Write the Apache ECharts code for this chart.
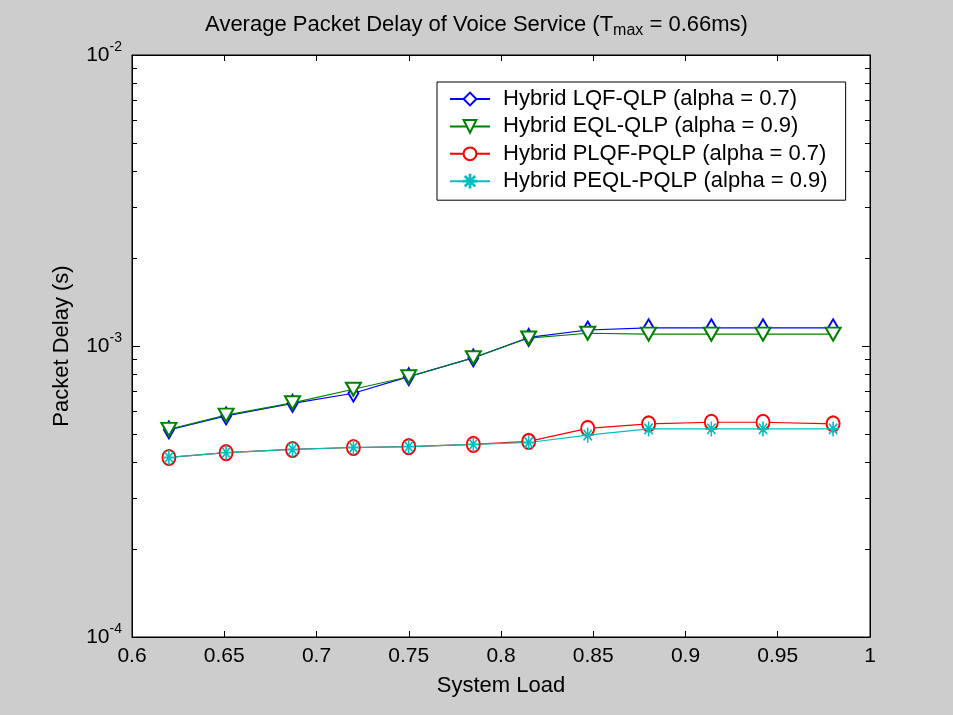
<!DOCTYPE html>
<html>
<head>
<meta charset="utf-8">
<script src="https://cdn.jsdelivr.net/npm/echarts@6/dist/echarts.min.js"></script>
<style>
html,body{margin:0;padding:0;background:#cdcdcd;}
#chart{width:953px;height:715px;}
</style>
</head>
<body>
<div id="chart"></div>
<script>
// ---- data ----
var systemLoad = [0.62, 0.651, 0.687, 0.72, 0.75, 0.785, 0.815, 0.847, 0.88, 0.914, 0.942, 0.98];
var lqfQlp   = [5.15e-4, 5.75e-4, 6.35e-4, 6.88e-4, 7.85e-4, 9.1e-4, 1.07e-3, 1.135e-3, 1.155e-3, 1.155e-3, 1.155e-3, 1.155e-3];
var eqlQlp   = [5.17e-4, 5.79e-4, 6.38e-4, 7.1e-4, 7.84e-4, 9.11e-4, 1.065e-3, 1.106e-3, 1.099e-3, 1.099e-3, 1.099e-3, 1.099e-3];
var plqfPqlp = [4.14e-4, 4.3e-4, 4.41e-4, 4.48e-4, 4.51e-4, 4.59e-4, 4.7e-4, 5.21e-4, 5.4e-4, 5.47e-4, 5.47e-4, 5.4e-4];
var peqlPqlp = [4.14e-4, 4.3e-4, 4.41e-4, 4.48e-4, 4.51e-4, 4.59e-4, 4.66e-4, 4.94e-4, 5.19e-4, 5.19e-4, 5.19e-4, 5.19e-4];
var seriesNames = [
  'Hybrid LQF-QLP (alpha = 0.7)',
  'Hybrid EQL-QLP (alpha = 0.9)',
  'Hybrid PLQF-PQLP (alpha = 0.7)',
  'Hybrid PEQL-PQLP (alpha = 0.9)'
];
var xMin = 0.6, xMax = 1, xStep = 0.05;
var yMin = 1e-4, yMax = 1e-2;
var minorTickValues = [2e-4,3e-4,4e-4,5e-4,6e-4,7e-4,8e-4,9e-4,2e-3,3e-3,4e-3,5e-3,6e-3,7e-3,8e-3,9e-3];

var FONT = '"Liberation Sans", Arial, Helvetica, sans-serif';
function pairs(ys){ return systemLoad.map(function(x,i){ return [x, ys[i]]; }); }
var asterisk = 'path://M-0.06,-1 L0.06,-1 L0.06,1 L-0.06,1 Z M-1,-0.06 L1,-0.06 L1,0.06 L-1,0.06 Z M-0.66,-0.74 L0.74,0.66 L0.66,0.74 L-0.74,-0.66 Z M0.66,-0.74 L0.74,-0.66 L-0.66,0.74 L-0.74,0.66 Z';

function lineSeries(name, ys, color, symbol, size, rotate){
  return {
    name: name, type: 'line', data: pairs(ys),
    symbol: symbol, symbolSize: size, symbolRotate: rotate || 0,
    showAllSymbol: true,
    lineStyle: {color: color, width: 1.2},
    itemStyle: {color: color, borderColor: color, borderWidth: 0.9},
    emphasis: {disabled: true},
    animation: false
  };
}

var chart = echarts.init(document.getElementById('chart'), null, {renderer: 'canvas'});
var option = {
  backgroundColor: '#cdcdcd',
  animation: false,
  textStyle: {fontFamily: FONT},
  title: {
    text: 'Average Packet Delay of Voice Service (T{sub|max} = 0.66ms)',
    left: 'center', top: 5,
    textStyle: {
      fontFamily: FONT, fontSize: 22, fontWeight: 'normal', color: '#000',
      rich: {sub: {fontFamily: FONT, fontSize: 16, color: '#000', padding: [13, 0, 0, 0]}}
    }
  },
  grid: {left: 132, right: 83, top: 55, bottom: 78, show: true, backgroundColor: '#ffffff', borderColor: '#000', borderWidth: 1},
  legend: {
    data: seriesNames,
    orient: 'vertical', left: 437, top: 82,
    backgroundColor: '#ffffff', borderColor: '#000', borderWidth: 1, borderRadius: 0,
    padding: [6, 18, 8, 12],
    itemWidth: 40, itemHeight: 16, itemGap: 5.4,
    textStyle: {fontFamily: FONT, fontSize: 22, color: '#000', padding: [0, 0, 0, 8]},
    selectedMode: false
  },
  xAxis: [{
    type: 'value', min: xMin, max: xMax, interval: xStep, position: 'bottom',
    name: 'System Load', nameLocation: 'middle', nameGap: 38,
    nameTextStyle: {fontFamily: FONT, fontSize: 22, color: '#000'},
    axisLine: {show: true, lineStyle: {color: '#000', width: 1}},
    axisTick: {show: true, inside: true, length: 6, lineStyle: {color: '#000'}},
    axisLabel: {fontFamily: FONT, fontSize: 21, color: '#000', margin: 9},
    splitLine: {show: false}
  }, {
    type: 'value', min: xMin, max: xMax, interval: xStep, position: 'top',
    axisLine: {show: true, lineStyle: {color: '#000', width: 1}},
    axisTick: {show: true, inside: true, length: 6, lineStyle: {color: '#000'}},
    axisLabel: {show: false}, splitLine: {show: false}
  }],
  yAxis: [{
    type: 'log', logBase: 10, min: yMin, max: yMax, position: 'left',
    name: 'Packet Delay (s)', nameLocation: 'middle', nameGap: 59,
    nameTextStyle: {fontFamily: FONT, fontSize: 22, color: '#000'},
    axisLine: {show: true, lineStyle: {color: '#000', width: 1}},
    axisTick: {show: true, inside: true, length: 8, lineStyle: {color: '#000'}},
    axisLabel: {
      fontFamily: FONT, fontSize: 21, color: '#000', margin: 10,
      formatter: function(v){ return '{b|10}{s|' + Math.round(Math.log10(v)) + '}'; },
      rich: {
        b: {fontFamily: FONT, fontSize: 21, color: '#000'},
        s: {fontFamily: FONT, fontSize: 14, color: '#000', padding: [0, 0, 15, 0]}
      }
    },
    splitLine: {show: false}
  }, {
    type: 'log', logBase: 10, min: yMin, max: yMax, position: 'right',
    axisLine: {show: true, lineStyle: {color: '#000', width: 1}},
    axisTick: {show: true, inside: true, length: 8, lineStyle: {color: '#000'}},
    axisLabel: {show: false}, splitLine: {show: false}
  }],
  series: [
    {
      type: 'custom', name: 'minorTicks', silent: true, clip: false,
      xAxisIndex: 0, yAxisIndex: 0,
      data: minorTickValues.map(function(v){ return [xMin, v]; }),
      renderItem: function(params, api){
        var v = api.value(1);
        var l = api.coord([xMin, v]);
        var r = api.coord([xMax, v]);
        var st = {stroke: '#000', lineWidth: 1};
        return {type: 'group', children: [
          {type: 'line', shape: {x1: l[0], y1: Math.round(l[1]) + 0.5, x2: l[0] + 5, y2: Math.round(l[1]) + 0.5}, style: st},
          {type: 'line', shape: {x1: r[0] - 5, y1: Math.round(r[1]) + 0.5, x2: r[0], y2: Math.round(r[1]) + 0.5}, style: st}
        ]};
      },
      z: 1
    },
    lineSeries(seriesNames[0], lqfQlp, '#0000ff', 'emptyDiamond', [10, 17]),
    lineSeries(seriesNames[1], eqlQlp, '#008000', 'emptyTriangle', [15, 13], 180),
    lineSeries(seriesNames[2], plqfPqlp, '#ff0000', 'emptyCircle', [13, 15]),
    lineSeries(seriesNames[3], peqlPqlp, '#00bfbf', asterisk, [11, 14])
  ]
};
chart.setOption(option);
</script>
</body>
</html>
